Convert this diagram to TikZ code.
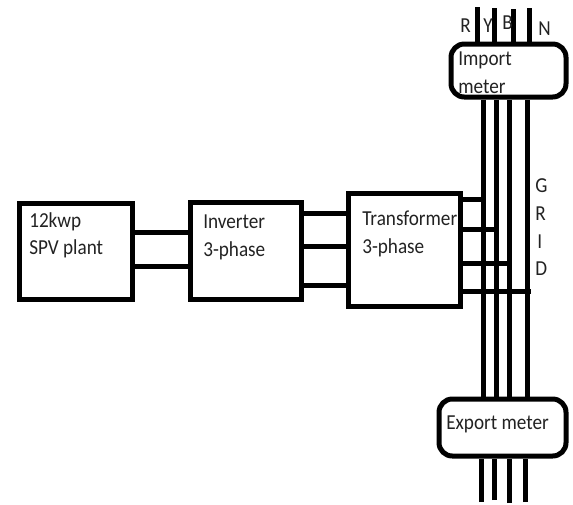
\documentclass[tikz,border=0pt]{standalone}
\usepackage{fontspec}
\setmainfont[FakeStretch=0.9]{Carlito}
\usetikzlibrary{positioning}
\definecolor{ink}{HTML}{000000}
\definecolor{labelink}{HTML}{222222}
\tikzset{
  blockbox/.style={draw=ink,line width=3.75pt,inner sep=0pt},
  meterbox/.style={draw=ink,line width=3.75pt,inner sep=0pt,rounded corners=10pt},
  wire/.style={draw=ink,line width=3.75pt},
  lbl/.style={anchor=base west,inner sep=0pt,font=\fontsize{16}{16}\selectfont,color=labelink}
}
\begin{document}
\begin{tikzpicture}[x=0.75pt,y=-0.75pt]
  \useasboundingbox (0,0) rectangle (573,504);

  % labels first, the box border runs over the text
  \node[lbl] (spvtxta) at (29,227) {12kwp};
  \node[lbl] (spvtxtb) at (29,254) {SPV plant};
  \node[lbl] (invtxta) at (203,228) {Inverter};
  \node[lbl] (invtxtb) at (203,256) {3-phase};
  \node[lbl] (trftxta) at (362,225) {Transformer};
  \node[lbl] (trftxtb) at (362,253) {3-phase};

  % main blocks
  \node[blockbox,minimum width=84.75pt,minimum height=72pt] (spv) at (75.5,251) {};
  \node[blockbox,minimum width=83.25pt,minimum height=72.75pt] (inverter) at (245.5,250.5) {};
  \node[blockbox,minimum width=84pt,minimum height=84.4pt] (transformer) at (404,249.75) {};

  % meters
  \node[meterbox,minimum width=86.25pt,minimum height=39.75pt] (importm) at (508.5,70.5) {};
  \node[meterbox,minimum width=95.25pt,minimum height=42.75pt] (exportm) at (502.5,427.5) {};

  % links between blocks
  \foreach \y in {232,266}
    \draw[wire] (spv.east |- 0,\y) -- (inverter.west |- 0,\y);
  \foreach \y in {213,246,285}
    \draw[wire] (inverter.east |- 0,\y) -- (transformer.west |- 0,\y);

  % bus bars between the meters
  \foreach \i/\x in {1/483,2/496,3/509,4/527} {
    \coordinate (bus\i) at (\x,250);
    \draw[wire] (bus\i |- importm.south) -- (bus\i |- exportm.north);
  }

  % transformer taps
  \foreach \i/\y/\e in {1/199/1,2/229/1,3/263/1,4/291/4}
    \draw[wire] (transformer.east |- 0,\y) -- ([xshift=\e*0.75pt]bus\i |- 0,\y);

  % wires above and below the meters
  \foreach \i/\x/\y in {1/477/7,2/494/8,3/513/9,4/529/8} {
    \coordinate (top\i) at (\x,\y);
    \draw[wire] (top\i) -- (top\i |- importm.north);
  }
  \foreach \i/\x/\y in {1/481/502,2/494/500,3/509/503,4/525/502} {
    \coordinate (bot\i) at (\x,\y);
    \draw[wire] (bot\i) -- (bot\i |- exportm.south);
  }

  \node[lbl] (phr) at (460,32) {R};
  \node[lbl] (phy) at (483,32) {Y};
  \node[lbl] (phb) at (502,29) {B};
  \node[lbl] (phn) at (538,35) {N};
  \node[lbl] (grg) at (535,192) {G};
  \node[lbl] (grr) at (535,220) {R};
  \node[lbl] (gri) at (537,248) {I};
  \node[lbl] (grd) at (535,275) {D};
  \node[lbl] (imptxta) at (458,65) {Import};
  \node[lbl] (imptxtb) at (458,93) {meter};
  \node[lbl] (exptxt) at (446,429) {Export meter};
\end{tikzpicture}
\end{document}
